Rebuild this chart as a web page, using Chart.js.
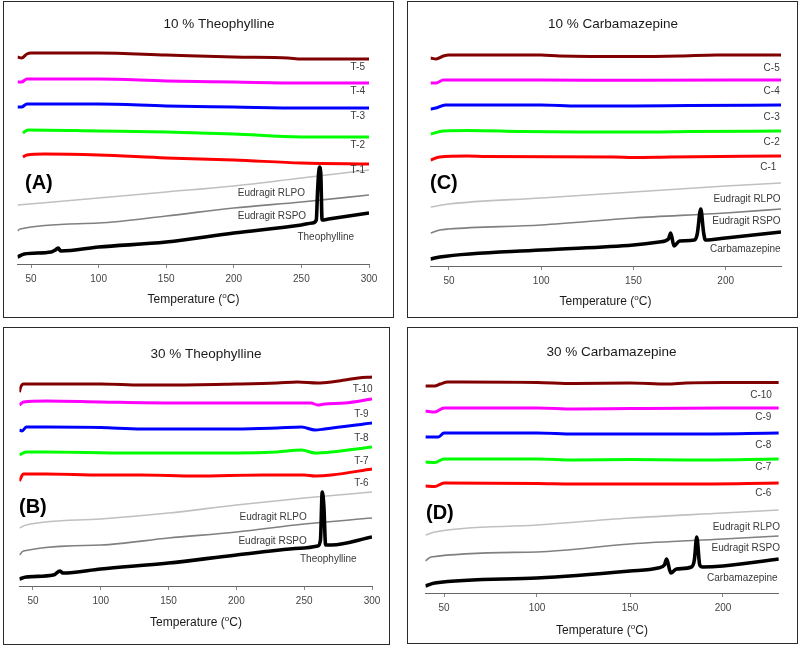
<!DOCTYPE html>
<html><head><meta charset="utf-8">
<script src="https://cdn.jsdelivr.net/npm/chart.js@4.4.0/dist/chart.umd.min.js"></script>
<style>
body{margin:0;background:#fff;width:800px;height:645px;position:relative;overflow:hidden}
.box{position:absolute;border:1px solid #2a2a2a;box-sizing:border-box}
canvas{position:absolute}
</style></head><body>
<div class="box" style="left:3px;top:1px;width:391px;height:317px"></div>
<div class="box" style="left:407px;top:1px;width:391px;height:317px"></div>
<div class="box" style="left:3px;top:327px;width:387px;height:318px"></div>
<div class="box" style="left:407px;top:327px;width:391px;height:317px"></div>
<canvas id="cA" width="388" height="314" style="left:4px;top:2px"></canvas>
<canvas id="cC" width="388" height="314" style="left:408px;top:2px"></canvas>
<canvas id="cB" width="384" height="315" style="left:4px;top:328px"></canvas>
<canvas id="cD" width="388" height="314" style="left:408px;top:328px"></canvas>
<script>
// ---- Data: [temperature (°C), heat flow (a.u., offset)] ----
// Panel A: 10 % Theophylline
const A_T5 = [[40,20.7],[43,20.6],[47,21.0],[50,21.1],[100,21.1],[150,20.9],[200,20.7],[240,20.6],[250,20.5],[300,20.5]];
const A_T4 = [[40,18.2],[43,18.2],[47,18.5],[50,18.5],[100,18.5],[150,18.3],[200,18.2],[250,18.1],[300,18.1]];
const A_T3 = [[40,15.7],[43,15.7],[47,16.0],[50,16.0],[100,16.0],[150,15.8],[200,15.7],[250,15.6],[300,15.6]];
const A_T2 = [[44,13.1],[46,13.3],[48,13.4],[100,13.3],[150,13.2],[200,13.0],[250,12.7],[300,12.7]];
const A_T1 = [[44,10.7],[47,10.9],[60,11.0],[100,10.9],[150,10.6],[200,10.4],[250,10.1],[300,10.0]];
const A_RL = [[40,5.9],[100,6.6],[150,7.2],[200,7.8],[250,8.6],[300,9.4]];
const A_RS = [[40,3.3],[42,3.5],[100,4.1],[150,4.8],[200,5.6],[250,6.2],[300,6.9]];
const A_TH = [[40,0.7],[45,1.0],[65,1.2],[68,1.4],[70,1.6],[72,1.3],[100,1.7],[150,2.2],[200,3.1],[250,3.9],[258,4.1],[261,4.4],[262,7.4],[263.3,9.7],[264.3,9.1],[265.3,4.4],[270,4.5],[300,5.1]];
// Panel B: 30 % Theophylline
const B_T10 = [[40,19.4],[41,19.9],[43,20.2],[50,20.2],[100,20.2],[130,20.1],[150,20.1],[200,20.2],[230,20.3],[245,20.4],[260,20.3],[270,20.4],[280,20.6],[290,20.8],[300,20.9]];
const B_T9 = [[40,18.1],[43,18.4],[60,18.5],[100,18.4],[150,18.3],[200,18.3],[255,18.3],[260,18.1],[265,18.2],[280,18.3],[300,18.7]];
const B_T8 = [[40,15.6],[42,15.5],[45,15.9],[60,15.9],[100,15.85],[130,15.7],[200,15.7],[230,15.8],[248,15.9],[258,15.6],[265,15.7],[300,16.3]];
const B_T7 = [[40,13.1],[45,13.4],[60,13.4],[120,13.3],[200,13.3],[230,13.4],[248,13.6],[258,13.3],[270,13.4],[300,13.9]];
const B_T6 = [[40,10.5],[43,11.2],[60,11.2],[100,11.1],[130,11.1],[170,11.0],[220,11.1],[250,11.1],[258,11.0],[270,11.1],[300,11.7]];
const B_RL = [[40,5.8],[45,6.1],[100,6.7],[150,7.3],[200,8.1],[250,8.8],[300,9.4]];
const B_RS = [[40,3.1],[43,3.5],[100,4.1],[150,4.8],[200,5.4],[250,6.2],[300,6.8]];
const B_TH = [[40,0.7],[45,0.9],[65,1.1],[70,1.5],[72,1.3],[100,1.7],[150,2.3],[200,3.1],[250,3.8],[260,4.0],[262,4.6],[263.3,9.4],[264.5,8.0],[265.8,4.1],[270,4.1],[300,4.9]];
// Panel C: 10 % Carbamazepine
const C_C5 = [[40,20.8],[43,20.7],[47,21.0],[50,21.1],[100,21.1],[110,21.0],[150,20.95],[175,21.0],[195,21.1],[230,21.1]];
const C_C4 = [[40,18.3],[43,18.3],[47,18.6],[100,18.6],[150,18.57],[230,18.6]];
const C_C3 = [[40,15.7],[43,15.8],[48,16.1],[100,16.1],[120,16.0],[150,16.0],[180,16.05],[230,16.1]];
const C_C2 = [[40,13.2],[47,13.5],[60,13.55],[90,13.45],[120,13.4],[160,13.4],[180,13.45],[230,13.5]];
const C_C1 = [[40,10.6],[45,10.9],[60,11.0],[70,10.95],[140,10.9],[150,10.85],[170,10.9],[230,11.0]];
const C_RL = [[40,5.9],[50,6.2],[100,6.8],[150,7.4],[200,8.0],[230,8.3]];
const C_RS = [[40,3.3],[45,3.6],[50,3.7],[100,4.1],[150,4.8],[200,5.3],[230,5.7]];
const C_CB = [[40,0.7],[45,0.9],[100,1.6],[150,2.1],[164,2.4],[169,2.7],[170.2,3.3],[172,2.0],[175,2.5],[183,2.6],[184.6,3.2],[186.5,5.7],[188,3.4],[189,2.6],[200,2.8],[230,3.4]];
// Panel D: 30 % Carbamazepine
const D_C10 = [[40,20.7],[45,20.7],[48,20.9],[52,21.1],[60,21.1],[100,21.05],[120,20.95],[150,21.0],[170,20.9],[180,21.0],[200,21.05],[230,21.05]];
const D_C9 = [[40,18.2],[45,18.1],[50,18.5],[100,18.5],[120,18.4],[150,18.45],[200,18.5],[230,18.5]];
const D_C8 = [[40,15.6],[47,15.6],[50,16.0],[100,16.0],[120,15.9],[150,15.9],[180,15.9],[230,16.0]];
const D_C7 = [[40,13.1],[45,13.05],[50,13.4],[100,13.4],[120,13.3],[150,13.35],[180,13.3],[230,13.4]];
const D_C6 = [[40,10.7],[45,10.65],[50,11.0],[100,10.95],[120,10.9],[180,10.9],[230,11.0]];
const D_RL = [[40,5.8],[45,6.1],[100,6.8],[150,7.5],[200,8.0],[230,8.3]];
const D_RS = [[40,3.2],[43,3.6],[100,4.1],[150,4.9],[200,5.4],[230,5.7]];
const D_CB = [[40,0.7],[45,1.0],[100,1.5],[150,2.2],[165,2.5],[168.5,2.8],[169.7,3.4],[171.9,2.0],[175,2.4],[183,2.6],[184.6,3.3],[185.9,5.6],[187.5,2.8],[189,2.6],[200,2.7],[230,3.4]];

// Series names (top to bottom)
const namesA = ['T-5','T-4','T-3','T-2','T-1','Eudragit RLPO','Eudragit RSPO','Theophylline'];
const namesB = ['T-10','T-9','T-8','T-7','T-6','Eudragit RLPO','Eudragit RSPO','Theophylline'];
const namesC = ['C-5','C-4','C-3','C-2','C-1','Eudragit RLPO','Eudragit RSPO','Carbamazepine'];
const namesD = ['C-10','C-9','C-8','C-7','C-6','Eudragit RLPO','Eudragit RSPO','Carbamazepine'];
// Tick labels
const ticksTheo = [50,100,150,200,250,300];
const ticksCarb = [50,100,150,200];
const titles = ['10 % Theophylline','30 % Theophylline','10 % Carbamazepine','30 % Carbamazepine'];
const letters = ['(A)','(B)','(C)','(D)'];

// ---- Styles ----
const colors = ['#800000','#ff00ff','#0000ff','#00ff00','#ff0000','#c0c0c0','#808080','#000000'];
const widths = [3,3,3,3,3,1.6,1.6,3.6];
const FONT = '"Liberation Sans", Arial, sans-serif';

const textPlugin = {
  id: 'dscText',
  afterDraw(chart, args, o) {
    const ctx = chart.ctx, xs = chart.scales.x, ys = chart.scales.y;
    ctx.save();
    ctx.fillStyle = '#1a1a1a';
    ctx.textBaseline = 'middle';
    ctx.textAlign = 'center';
    ctx.font = '13.5px ' + FONT;
    ctx.fillText(o.title, o.titlePos[0], o.titlePos[1]);
    // x-axis title with superscript o
    ctx.font = '12px ' + FONT;
    const p1 = 'Temperature (', p3 = 'C)';
    const w1 = ctx.measureText(p1).width, w3 = ctx.measureText(p3).width;
    ctx.font = '8px ' + FONT;
    const w2 = ctx.measureText('o').width;
    let x0 = o.xTitlePos[0] - (w1 + w2 + w3) / 2, y0 = o.xTitlePos[1];
    ctx.textAlign = 'left';
    ctx.font = '12px ' + FONT;
    ctx.fillText(p1, x0, y0);
    ctx.font = '8px ' + FONT;
    ctx.fillText('o', x0 + w1, y0 - 4);
    ctx.font = '12px ' + FONT;
    ctx.fillText(p3, x0 + w1 + w2, y0);
    // panel letter
    ctx.font = 'bold 20px ' + FONT;
    ctx.fillStyle = '#000';
    ctx.fillText(o.letter, o.letterPos[0], o.letterPos[1]);
    // series labels
    ctx.font = '10px ' + FONT;
    ctx.fillStyle = '#3a3a3a';
    ctx.textAlign = 'right';
    o.names.forEach((n, i) => {
      const a = o.anchors[i];
      ctx.fillText(n, xs.getPixelForValue(a[0]), ys.getPixelForValue(a[1]));
    });
    ctx.restore();
  }
};

function makePanel(id, series, names, ticks, xmax, pad, xH, text) {
  const datasets = series.map((s, i) => ({
    label: names[i],
    data: s.map(p => ({x: p[0], y: p[1]})),
    borderColor: colors[i],
    borderWidth: widths[i],
    pointRadius: 0,
    fill: false,
    cubicInterpolationMode: 'monotone',
    order: series.length - i
  }));
  new Chart(document.getElementById(id), {
    type: 'line',
    data: {datasets},
    plugins: [textPlugin],
    options: {
      responsive: false, animation: false, devicePixelRatio: 1,
      layout: {padding: {left: pad[0], right: pad[1], top: pad[2], bottom: 0}},
      plugins: {legend: {display: false}, tooltip: {enabled: false}, title: {display: false},
        dscText: Object.assign({names}, text)},
      scales: {
        x: {
          type: 'linear', min: 40, max: xmax,
          afterBuildTicks: s => { s.ticks = ticks.map(v => ({value: v})); },
          afterFit: s => { s.height = xH; },
          ticks: {color: '#444', font: {size: 10, family: FONT}, padding: 5, maxRotation: 0, autoSkip: false},
          grid: {display: true, drawOnChartArea: false, drawTicks: true, tickLength: 4, color: '#888'},
          border: {display: true, color: '#666', width: 1}
        },
        y: {display: false, min: 0, max: 24}
      }
    }
  });
}

makePanel('cA', [A_T5,A_T4,A_T3,A_T2,A_T1,A_RL,A_RS,A_TH], namesA, ticksTheo, 300, [13.5,23,22], 52, {
  title: titles[0], titlePos: [215,22], xTitlePos: [189.5,298], letter: letters[0], letterPos: [21,181],
  anchors: [[297,19.7],[297,17.3],[297,14.8],[297,11.9],[297,9.4],[252.7,7.07],[253.5,4.73],[289,2.63]]
});
makePanel('cB', [B_T10,B_T9,B_T8,B_T7,B_T6,B_RL,B_RS,B_TH], namesB, ticksTheo, 300, [15.4,16,18], 57, {
  title: titles[1], titlePos: [202,26], xTitlePos: [192,295], letter: letters[1], letterPos: [15,179],
  anchors: [[300.5,19.7],[297.5,17.2],[297.5,14.8],[297.5,12.5],[297.5,10.3],[251.9,6.9],[251.9,4.5],[288.7,2.7]]
});
makePanel('cC', [C_C5,C_C4,C_C3,C_C2,C_C1,C_RL,C_RS,C_CB], namesC, ticksCarb, 230, [22.5,15,24], 50, {
  title: titles[2], titlePos: [205,22], xTitlePos: [197.5,300], letter: letters[2], letterPos: [22,181],
  anchors: [[229.3,19.8],[229.3,17.5],[229.3,14.9],[229.3,12.4],[227.5,9.9],[229.8,6.7],[229.8,4.5],[229.8,1.7]]
});
makePanel('cD', [D_C10,D_C9,D_C8,D_C7,D_C6,D_RL,D_RS,D_CB], namesD, ticksCarb, 230, [17.4,17.2,25], 49, {
  title: titles[3], titlePos: [203.5,24], xTitlePos: [194,303], letter: letters[3], letterPos: [18,185],
  anchors: [[226.3,19.8],[226,17.6],[226,14.8],[226,12.6],[226,10.0],[230.6,6.6],[230.6,4.5],[229.4,1.5]]
});
</script>
</body></html>
